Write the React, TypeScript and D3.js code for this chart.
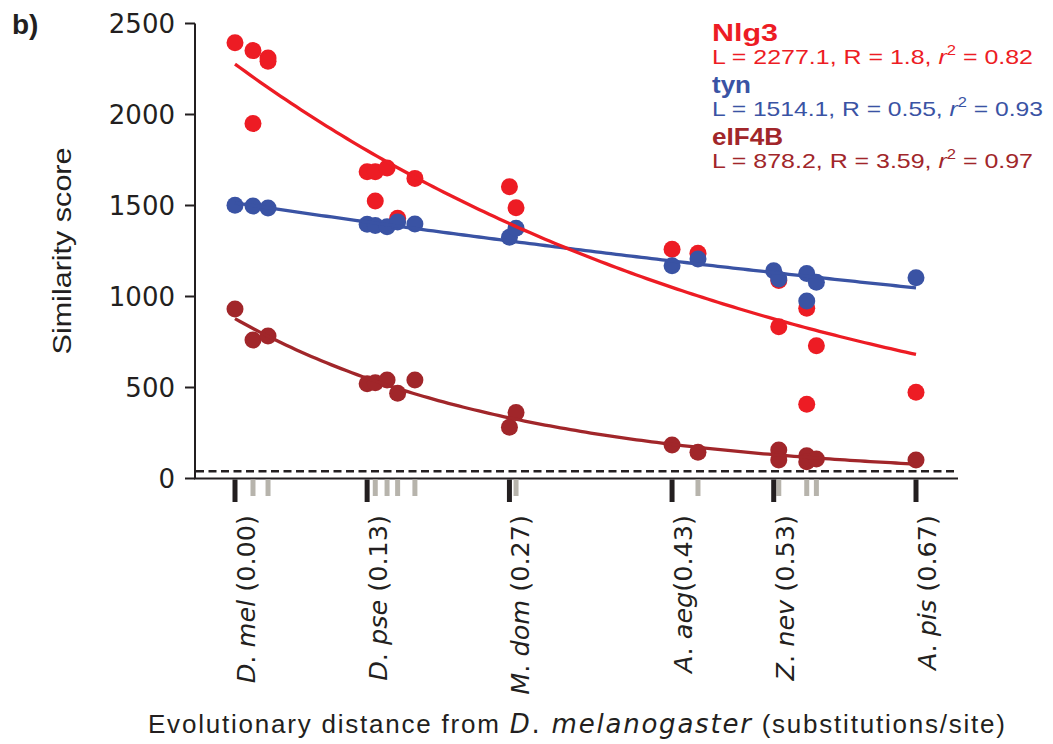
import React from "react";
import * as d3 from "d3";

// species evolutionary distances (all species, index referenced by points)
const speciesDist = [0, 0.0177, 0.0325, 0.13, 0.138, 0.1496, 0.16, 0.177, 0.27, 0.2765, 0.43, 0.4555, 0.53, 0.535, 0.5625, 0.572, 0.67];
const labeledIdx = [0, 3, 8, 10, 12, 16];
const tickGenus = ["D", "D", "M", "A", "Z", "A"];
const tickSpecies = ["mel", "pse", "dom", "aeg", "nev", "pis"];
const tickDistText = [" (0.00)", " (0.13)", " (0.27)", "(0.43)", " (0.53)", " (0.67)"];
const yTicks = [0, 500, 1000, 1500, 2000, 2500];

const geneNames = ["Nlg3", "tyn", "eIF4B"];
const geneColors = ["#ED1C24", "#3A53A4", "#A1262A"];
const fitL = [2277.1, 1514.1, 878.2];
const fitR = [1.8, 0.55, 3.59];
const fitR2 = ["0.82", "0.93", "0.97"];

const nlg3Sp = [0, 1, 1, 2, 2, 3, 4, 5, 7, 4, 6, 8, 9, 10, 11, 13, 13, 14, 14, 15, 16];
const nlg3Val = [2394, 2351, 1951, 2310, 2292, 1686, 1686, 1706, 1649, 1525, 1430, 1603, 1488, 1259, 1237, 834, 1088, 935, 408, 730, 474];
const tynSp = [0, 1, 2, 3, 4, 5, 6, 7, 8, 9, 10, 11, 12, 13, 14, 14, 15, 16];
const tynVal = [1501, 1497, 1486, 1397, 1390, 1383, 1410, 1398, 1325, 1375, 1169, 1206, 1142, 1096, 1127, 975, 1078, 1103];
const eifSp = [0, 1, 2, 3, 4, 5, 6, 7, 8, 9, 10, 11, 13, 13, 14, 14, 15, 16];
const eifVal = [931, 761, 783, 520, 526, 541, 468, 541, 281, 362, 184, 144, 157, 102, 125, 92, 107, 102];

const thresholdValue = 40;

const pointSets = [
  { sp: nlg3Sp, val: nlg3Val, color: geneColors[0] },
  { sp: tynSp, val: tynVal, color: geneColors[1] },
  { sp: eifSp, val: eifVal, color: geneColors[2] },
];

export default function App() {
  const x = d3.scaleLinear().domain([0, 0.67]).range([235, 916]);
  const y = d3.scaleLinear().domain([0, 2500]).range([478.5, 23.5]);
  const axisColor = "#231F20";
  const xEnd = 958;
  const grayIdx = speciesDist.map((_, i) => i).filter((i) => !labeledIdx.includes(i));
  const curveXs = d3.range(0, 0.6701, 0.005);
  const line = d3.line<number>().x((d) => x(d));

  const legendY = [41, 93, 145];
  const legendHeadW = [66, 39, 71];
  const legendLineW = [321, 331, 321];

  return (
    <svg width={1053} height={744} style={{ position: "absolute", left: 0, top: 0, background: "#fff" }}>
      <text x={12} y={34} fontFamily="Liberation Sans, Arial, sans-serif" fontWeight="bold" fontSize={28} fill={axisColor}>b)</text>

      {/* y axis */}
      <line x1={195} x2={195} y1={y(2500)} y2={y(0)} stroke={axisColor} strokeWidth={2} />
      {yTicks.map((t) => (
        <g key={t}>
          <line x1={185} x2={195} y1={y(t)} y2={y(t)} stroke={axisColor} strokeWidth={2} />
          <text x={175} y={y(t)} dy="0.36em" textAnchor="end" fontFamily="DejaVu Sans" fontSize={26} fill={axisColor}>{t}</text>
        </g>
      ))}
      <text transform="translate(71,251) rotate(-90)" textAnchor="middle" fontFamily="Liberation Sans, Arial" fontSize={26} fill={axisColor} textLength={207} lengthAdjust="spacingAndGlyphs">Similarity score</text>

      {/* x axis */}
      <line x1={194} x2={xEnd} y1={y(0)} y2={y(0)} stroke={axisColor} strokeWidth={2} />
      <line x1={196} x2={xEnd} y1={y(thresholdValue)} y2={y(thresholdValue)} stroke={axisColor} strokeWidth={2.6} strokeDasharray="8,4.5" />
      {grayIdx.map((i) => (
        <line key={"g" + i} x1={x(speciesDist[i])} x2={x(speciesDist[i])} y1={y(0) + 1} y2={496} stroke="#B7B4AC" strokeWidth={5} />
      ))}
      {labeledIdx.map((i, k) => (
        <g key={"t" + i}>
          <line x1={x(speciesDist[i])} x2={x(speciesDist[i])} y1={y(0) + 1} y2={502} stroke={axisColor} strokeWidth={5} />
          <text transform={`translate(${x(speciesDist[i]) + 20},515) rotate(-90)`} textAnchor="end" fontFamily="DejaVu Sans" fontSize={25.5} fill={axisColor}>
            <tspan fontStyle="italic">{tickGenus[k]}</tspan>
            <tspan>{". "}</tspan>
            <tspan fontStyle="italic">{tickSpecies[k]}</tspan>
            <tspan>{tickDistText[k]}</tspan>
          </text>
        </g>
      ))}
      <text x={148} y={733} fontFamily="Liberation Sans, Arial" fontSize={26} fill={axisColor} textLength={857} lengthAdjust="spacing">
        <tspan>Evolutionary distance from </tspan>
        <tspan fontFamily="DejaVu Sans" fontStyle="italic">D</tspan>
        <tspan fontFamily="DejaVu Sans">. </tspan>
        <tspan fontFamily="DejaVu Sans" fontStyle="italic">melanogaster</tspan>
        <tspan> (substitutions/site)</tspan>
      </text>

      {/* points */}
      {pointSets.map((s, si) => (
        <g key={"p" + si}>
          {s.sp.map((spi, j) => (
            <circle key={j} cx={x(speciesDist[spi])} cy={y(s.val[j])} r={8.5} fill={s.color} />
          ))}
        </g>
      ))}

      {/* fitted curves L*exp(-R*d) */}
      {[2, 1, 0].map((gi) => (
        <path
          key={"c" + gi}
          d={line.y((d) => y(fitL[gi] * Math.exp(-fitR[gi] * d)))(curveXs) || ""}
          fill="none"
          stroke={geneColors[gi]}
          strokeWidth={3.3}
        />
      ))}

      {/* legend */}
      {geneNames.map((g, gi) => (
        <g key={"l" + g} fill={geneColors[gi]} fontFamily="Liberation Sans, Arial">
          <text x={712} y={legendY[gi]} fontWeight="bold" fontSize={24} textLength={legendHeadW[gi]} lengthAdjust="spacingAndGlyphs">{g}</text>
          <text x={712} y={legendY[gi] + 23} fontSize={21} textLength={legendLineW[gi]} lengthAdjust="spacingAndGlyphs">
            <tspan>{`L = ${fitL[gi]}, R = ${fitR[gi]}, `}</tspan>
            <tspan fontStyle="italic">r</tspan>
            <tspan dy={-9} fontSize={14}>2</tspan>
            <tspan dy={9}>{` = ${fitR2[gi]}`}</tspan>
          </text>
        </g>
      ))}
    </svg>
  );
}
